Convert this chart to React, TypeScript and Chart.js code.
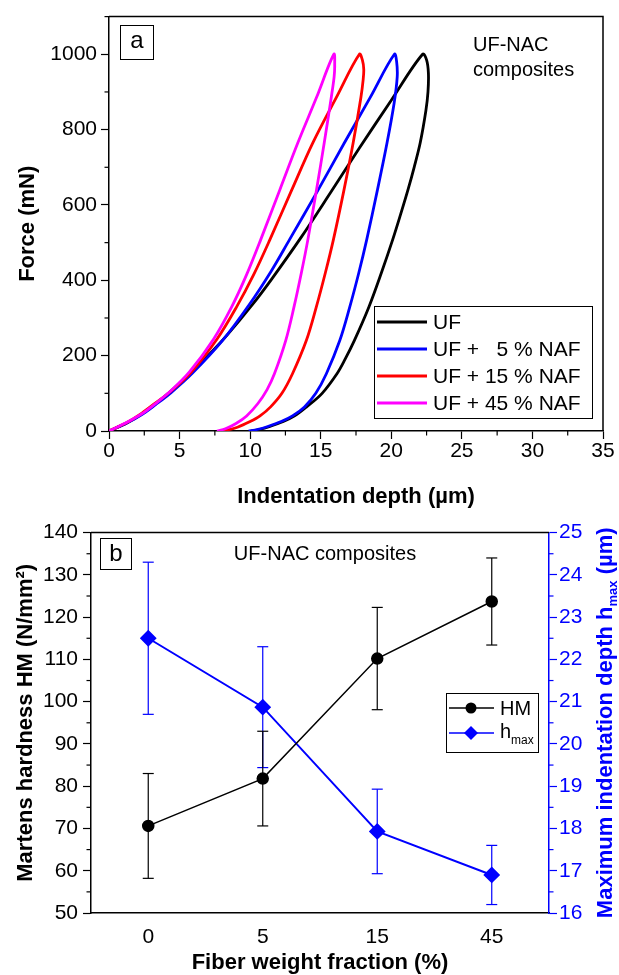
import React, { useEffect, useRef } from 'react';
import { Chart, registerables } from 'chart.js';

Chart.register(...registerables);

const FONT = "'Liberation Sans', Arial, sans-serif";

// ---------- Panel (a): load-displacement curves ----------
const seriesLabels = ['UF', 'UF +   5 % NAF', 'UF + 15 % NAF', 'UF + 45 % NAF'];
const seriesColors = ['#000000', '#0000ff', '#ff0000', '#ff00ff'];

const ufDepth = [0, 1.3, 2.2, 3.3, 4.33, 5.88, 7.2, 8.38, 10.17, 11.5, 13.61, 15.7, 17.74, 20.0, 22.22,
  22.5, 22.63, 22.6, 22.45, 22.05, 21.62, 21.18, 20.66, 20.1, 19.3, 18.4, 17.38, 16.72, 16.15, 15.1, 14.0, 13.15, 12.35, 11.4, 10.65, 10.05];
const ufForce = [0, 22, 42, 72, 104, 157, 207, 255, 336, 402, 514, 633, 751, 878, 1000,
  985, 950, 900, 850, 765, 700, 640, 575, 508, 420, 328, 240, 190, 152, 100, 64, 40, 25, 12, 4, 0];

const naf5Depth = [0, 1.3, 2.3, 3.3, 4.4, 5.9, 8.02, 9.93, 11.5, 12.79, 14.7, 16.68, 18.5, 20.22,
  20.38, 20.42, 20.2, 19.7, 19.02, 18.26, 17.7, 17.05, 16.35, 15.4, 14.65, 13.85, 13.0, 12.2, 11.25, 10.5, 9.9];
const naf5Force = [0, 22, 43, 70, 102, 153, 239, 335, 425, 508, 632, 765, 885, 1000,
  980, 940, 870, 765, 640, 508, 420, 328, 240, 152, 100, 64, 40, 25, 12, 4, 0];

const naf15Depth = [0, 1.3, 2.2, 3.2, 4.3, 5.8, 7.67, 9.05, 10.25, 11.4, 12.95, 14.44, 16.1, 17.74,
  17.95, 18.05, 18.0, 17.85, 17.3, 16.65, 15.9, 15.33, 14.68, 13.98, 13.0, 12.25, 11.45, 10.7, 10.0, 9.1, 8.1];
const naf15Force = [0, 23, 44, 72, 103, 155, 245, 330, 415, 508, 640, 765, 885, 1000,
  985, 960, 930, 886, 765, 640, 508, 420, 328, 240, 152, 100, 64, 40, 25, 10, 0];

const naf45Depth = [0, 1.3, 2.3, 3.2, 4.3, 5.7, 7.43, 8.7, 9.75, 10.75, 12.1, 13.38, 14.7, 15.93,
  15.99, 15.95, 15.75, 15.25, 14.7, 14.09, 13.63, 13.1, 12.52, 11.72, 11.2, 10.55, 9.75, 9.0, 8.25, 7.65];
const naf45Force = [0, 24, 45, 70, 104, 157, 245, 330, 415, 508, 640, 765, 885, 1000,
  970, 940, 886, 765, 640, 508, 420, 328, 240, 152, 110, 73, 40, 20, 6, 0];

const depthTicks = [0, 5, 10, 15, 20, 25, 30, 35];
const depthMinorTicks = [2.5, 7.5, 12.5, 17.5, 22.5, 27.5, 32.5];
const forceTicks = [0, 200, 400, 600, 800, 1000];
const forceMinorTicks = [100, 300, 500, 700, 900, 1100];

// ---------- Panel (b): hardness / max depth ----------
const fiberLabels = ['0', '5', '15', '45'];
const hmValues = [70.6, 81.8, 110.2, 123.7];
const hmErrors = [12.4, 11.2, 12.1, 10.3];
const hmaxValues = [22.5, 20.87, 17.93, 16.9];
const hmaxErrors = [1.8, 1.43, 1.0, 0.7];
const hmMinorTicks = [55, 65, 75, 85, 95, 105, 115, 125, 135];
const hmaxMinorTicks = [16.5, 17.5, 18.5, 19.5, 20.5, 21.5, 22.5, 23.5, 24.5];

const TOP_H = 515;
const BOT_H = 460;

function line(ctx: CanvasRenderingContext2D, x1: number, y1: number, x2: number, y2: number) {
  ctx.beginPath();
  ctx.moveTo(x1, y1);
  ctx.lineTo(x2, y2);
  ctx.stroke();
}

const topPlugin = {
  id: 'topDecor',
  afterDraw(chart: any) {
    const { ctx, chartArea: ca, scales } = chart;
    const x = scales.x;
    const y = scales.y;
    ctx.save();
    ctx.strokeStyle = '#000';
    ctx.lineWidth = 1.5;
    ctx.beginPath();
    ctx.moveTo(ca.left, ca.top);
    ctx.lineTo(ca.right, ca.top);
    ctx.lineTo(ca.right, ca.bottom);
    ctx.stroke();
    ctx.lineWidth = 1.2;
    depthMinorTicks.forEach((v) => {
      const px = x.getPixelForValue(v);
      line(ctx, px, ca.bottom, px, ca.bottom + 4.5);
    });
    forceMinorTicks.forEach((v) => {
      const py = y.getPixelForValue(v);
      line(ctx, ca.left, py, ca.left - 4.5, py);
    });
    // panel label
    ctx.lineWidth = 1;
    ctx.strokeRect(120.5, 25.5, 33, 34);
    ctx.fillStyle = '#000';
    ctx.font = `24px ${FONT}`;
    ctx.textAlign = 'center';
    ctx.textBaseline = 'middle';
    ctx.fillText('a', 137, 41);
    // annotation
    ctx.font = `20px ${FONT}`;
    ctx.textAlign = 'left';
    ctx.fillText('UF-NAC', 473, 45);
    ctx.fillText('composites', 473, 70);
    // legend
    ctx.lineWidth = 1;
    ctx.strokeRect(374.5, 306.5, 218, 112);
    const rows = [322, 349, 376, 403];
    ctx.font = `21px ${FONT}`;
    seriesLabels.forEach((lab, i) => {
      ctx.strokeStyle = seriesColors[i];
      ctx.lineWidth = 3;
      line(ctx, 377, rows[i], 427, rows[i]);
      ctx.fillStyle = '#000';
      ctx.fillText(lab, 433, rows[i] + 1);
    });
    // axis titles
    ctx.fillStyle = '#000';
    ctx.font = `bold 22px ${FONT}`;
    ctx.textAlign = 'center';
    ctx.fillText('Indentation depth (µm)', (ca.left + ca.right) / 2, 497);
    ctx.translate(28, (ca.top + ca.bottom) / 2);
    ctx.rotate(-Math.PI / 2);
    ctx.fillText('Force (mN)', 0, 0);
    ctx.restore();
  },
};

const errorBarPlugin = {
  id: 'errorBars',
  beforeDatasetsDraw(chart: any) {
    const { ctx, scales } = chart;
    const x = scales.x;
    const draw = (vals: number[], errs: number[], sc: any, color: string) => {
      ctx.strokeStyle = color;
      ctx.lineWidth = 1.2;
      vals.forEach((v, i) => {
        const px = x.getPixelForValue(i);
        const t = sc.getPixelForValue(v + errs[i]);
        const b = sc.getPixelForValue(v - errs[i]);
        line(ctx, px, t, px, b);
        line(ctx, px - 5.5, t, px + 5.5, t);
        line(ctx, px - 5.5, b, px + 5.5, b);
      });
    };
    ctx.save();
    draw(hmaxValues, hmaxErrors, scales.y1, '#0000ff');
    draw(hmValues, hmErrors, scales.y, '#000000');
    ctx.restore();
  },
};

const bottomPlugin = {
  id: 'bottomDecor',
  afterDraw(chart: any) {
    const { ctx, chartArea: ca, scales } = chart;
    const y = scales.y;
    const y1 = scales.y1;
    ctx.save();
    ctx.strokeStyle = '#000';
    ctx.lineWidth = 1.5;
    line(ctx, ca.left, ca.top, ca.right, ca.top);
    ctx.lineWidth = 1.2;
    hmMinorTicks.forEach((v) => {
      const py = y.getPixelForValue(v);
      line(ctx, ca.left, py, ca.left - 4.5, py);
    });
    ctx.strokeStyle = '#0000ff';
    hmaxMinorTicks.forEach((v) => {
      const py = y1.getPixelForValue(v);
      line(ctx, ca.right, py, ca.right + 4.5, py);
    });
    // panel label
    ctx.strokeStyle = '#000';
    ctx.lineWidth = 1;
    ctx.strokeRect(100.5, 23.5, 31, 31);
    ctx.fillStyle = '#000';
    ctx.font = `24px ${FONT}`;
    ctx.textAlign = 'center';
    ctx.textBaseline = 'middle';
    ctx.fillText('b', 116, 39);
    ctx.font = `20px ${FONT}`;
    ctx.fillText('UF-NAC composites', 325, 39);
    // legend
    ctx.strokeRect(446.5, 178.5, 92, 59);
    ctx.lineWidth = 1.5;
    ctx.strokeStyle = '#000';
    line(ctx, 449, 193, 494, 193);
    ctx.beginPath();
    ctx.arc(471, 193, 5.5, 0, Math.PI * 2);
    ctx.fill();
    ctx.strokeStyle = '#0000ff';
    ctx.fillStyle = '#0000ff';
    line(ctx, 449, 218, 494, 218);
    ctx.beginPath();
    ctx.moveTo(471, 211);
    ctx.lineTo(478, 218);
    ctx.lineTo(471, 225);
    ctx.lineTo(464, 218);
    ctx.closePath();
    ctx.fill();
    ctx.fillStyle = '#000';
    ctx.textAlign = 'left';
    ctx.font = `20px ${FONT}`;
    ctx.fillText('HM', 500, 194);
    ctx.fillText('h', 500, 217);
    ctx.font = `12px ${FONT}`;
    ctx.fillText('max', 511, 226);
    // axis titles
    ctx.font = `bold 22px ${FONT}`;
    ctx.textAlign = 'center';
    ctx.fillText('Fiber weight fraction (%)', (ca.left + ca.right) / 2, 448);
    ctx.save();
    ctx.translate(26, (ca.top + ca.bottom) / 2);
    ctx.rotate(-Math.PI / 2);
    ctx.fillText('Martens hardness HM (N/mm²)', 0, 0);
    ctx.restore();
    // right title with subscript
    ctx.save();
    ctx.translate(606, (ca.top + ca.bottom) / 2);
    ctx.rotate(-Math.PI / 2);
    ctx.fillStyle = '#0000ff';
    const mainFont = `bold 22px ${FONT}`;
    const subFont = `bold 13px ${FONT}`;
    const p1 = 'Maximum indentation depth h';
    const p2 = 'max';
    const p3 = ' (µm)';
    ctx.font = mainFont;
    const w1 = ctx.measureText(p1).width;
    const w3 = ctx.measureText(p3).width;
    ctx.font = subFont;
    const w2 = ctx.measureText(p2).width;
    const total = w1 + w2 + w3;
    let sx = -total / 2;
    ctx.textAlign = 'left';
    ctx.font = mainFont;
    ctx.fillText(p1, sx, 0);
    sx += w1;
    ctx.font = subFont;
    ctx.fillText(p2, sx, 7);
    sx += w2;
    ctx.font = mainFont;
    ctx.fillText(p3, sx, 0);
    ctx.restore();
    ctx.restore();
  },
};

export default function App() {
  const topRef = useRef<HTMLCanvasElement | null>(null);
  const botRef = useRef<HTMLCanvasElement | null>(null);

  useEffect(() => {
    const depths = [ufDepth, naf5Depth, naf15Depth, naf45Depth];
    const forces = [ufForce, naf5Force, naf15Force, naf45Force];
    const tickFont = { family: FONT, size: 21 };

    const top = new Chart(topRef.current as HTMLCanvasElement, {
      type: 'scatter',
      data: {
        datasets: depths.map((d, i) => ({
          label: seriesLabels[i],
          data: d.map((xv, j) => ({ x: xv, y: forces[i][j] })),
          showLine: true,
          borderColor: seriesColors[i],
          backgroundColor: seriesColors[i],
          borderWidth: 2.8,
          pointRadius: 0,
          tension: 0.35,
          fill: false,
          order: 3 - i,
        })),
      },
      options: {
        animation: false,
        responsive: false,
        maintainAspectRatio: false,
        events: [],
        layout: { padding: { top: 14, right: 16, left: 0, bottom: 0 } },
        plugins: { legend: { display: false }, tooltip: { enabled: false } },
        scales: {
          x: {
            type: 'linear',
            min: 0,
            max: 35,
            afterBuildTicks: (s: any) => {
              s.ticks = depthTicks.map((v) => ({ value: v }));
            },
            afterFit: (s: any) => {
              s.height = TOP_H - 431;
            },
            grid: { drawOnChartArea: false, drawTicks: true, tickLength: 8, color: '#000', tickWidth: 1.2 },
            border: { color: '#000', width: 1.5 },
            ticks: { font: tickFont, color: '#000', padding: 0, maxRotation: 0, autoSkip: false, callback: (v: any) => String(v) },
          },
          y: {
            type: 'linear',
            min: 0,
            max: 1100,
            afterBuildTicks: (s: any) => {
              s.ticks = forceTicks.map((v) => ({ value: v }));
            },
            afterFit: (s: any) => {
              s.width = 109;
            },
            grid: { drawOnChartArea: false, drawTicks: true, tickLength: 8, color: '#000', tickWidth: 1.2 },
            border: { color: '#000', width: 1.5 },
            ticks: { font: tickFont, color: '#000', padding: 4, autoSkip: false, callback: (v: any) => String(v) },
          },
        },
      },
      plugins: [topPlugin],
    } as any);

    const bot = new Chart(botRef.current as HTMLCanvasElement, {
      type: 'line',
      data: {
        datasets: [
          {
            label: 'HM',
            data: hmValues.map((v, i) => ({ x: i, y: v })),
            yAxisID: 'y',
            borderColor: '#000',
            backgroundColor: '#000',
            borderWidth: 1.5,
            pointStyle: 'circle',
            pointRadius: 5.5,
            pointBackgroundColor: '#000',
            pointBorderColor: '#000',
            tension: 0,
          },
          {
            label: 'hmax',
            data: hmaxValues.map((v, i) => ({ x: i, y: v })),
            yAxisID: 'y1',
            borderColor: '#0000ff',
            backgroundColor: '#0000ff',
            borderWidth: 2,
            pointStyle: 'rectRot',
            pointRadius: 7,
            pointBackgroundColor: '#0000ff',
            pointBorderColor: '#0000ff',
            tension: 0,
          },
        ],
      },
      options: {
        animation: false,
        responsive: false,
        maintainAspectRatio: false,
        events: [],
        layout: { padding: { top: 14, right: 0, left: 0, bottom: 0 } },
        plugins: { legend: { display: false }, tooltip: { enabled: false } },
        scales: {
          x: {
            type: 'linear',
            min: -0.5,
            max: 3.5,
            afterBuildTicks: (s: any) => {
              s.ticks = fiberLabels.map((_, i) => ({ value: i }));
            },
            afterFit: (s: any) => {
              s.height = BOT_H - 398;
            },
            grid: { drawOnChartArea: false, drawTicks: false, color: '#000' },
            border: { color: '#000', width: 1.5 },
            ticks: {
              font: tickFont,
              color: '#000',
              padding: 12,
              maxRotation: 0,
              autoSkip: false,
              callback: (v: any) => fiberLabels[Math.round(Number(v))] ?? '',
            },
          },
          y: {
            type: 'linear',
            position: 'left',
            min: 50,
            max: 140,
            ticks: { stepSize: 10, font: tickFont, color: '#000', padding: 5, autoSkip: false },
            afterFit: (s: any) => {
              s.width = 91;
            },
            grid: { drawOnChartArea: false, drawTicks: true, tickLength: 8, color: '#000', tickWidth: 1.2 },
            border: { color: '#000', width: 1.5 },
          },
          y1: {
            type: 'linear',
            position: 'right',
            min: 16,
            max: 25,
            ticks: { stepSize: 1, font: tickFont, color: '#0000ff', padding: 2, autoSkip: false },
            afterFit: (s: any) => {
              s.width = 70;
            },
            grid: { drawOnChartArea: false, drawTicks: true, tickLength: 8, color: '#0000ff', tickWidth: 1.2 },
            border: { color: '#0000ff', width: 1.5 },
          },
        },
      },
      plugins: [errorBarPlugin, bottomPlugin],
    } as any);

    return () => {
      top.destroy();
      bot.destroy();
    };
  }, []);

  return (
    <div style={{ position: 'absolute', left: 0, top: 0, width: 619, height: 975, background: '#fff' }}>
      <canvas
        ref={topRef}
        width={619}
        height={TOP_H}
        style={{ position: 'absolute', left: 0, top: 0, width: 619, height: TOP_H, display: 'block' }}
      />
      <canvas
        ref={botRef}
        width={619}
        height={BOT_H}
        style={{ position: 'absolute', left: 0, top: TOP_H, width: 619, height: BOT_H, display: 'block' }}
      />
    </div>
  );
}
